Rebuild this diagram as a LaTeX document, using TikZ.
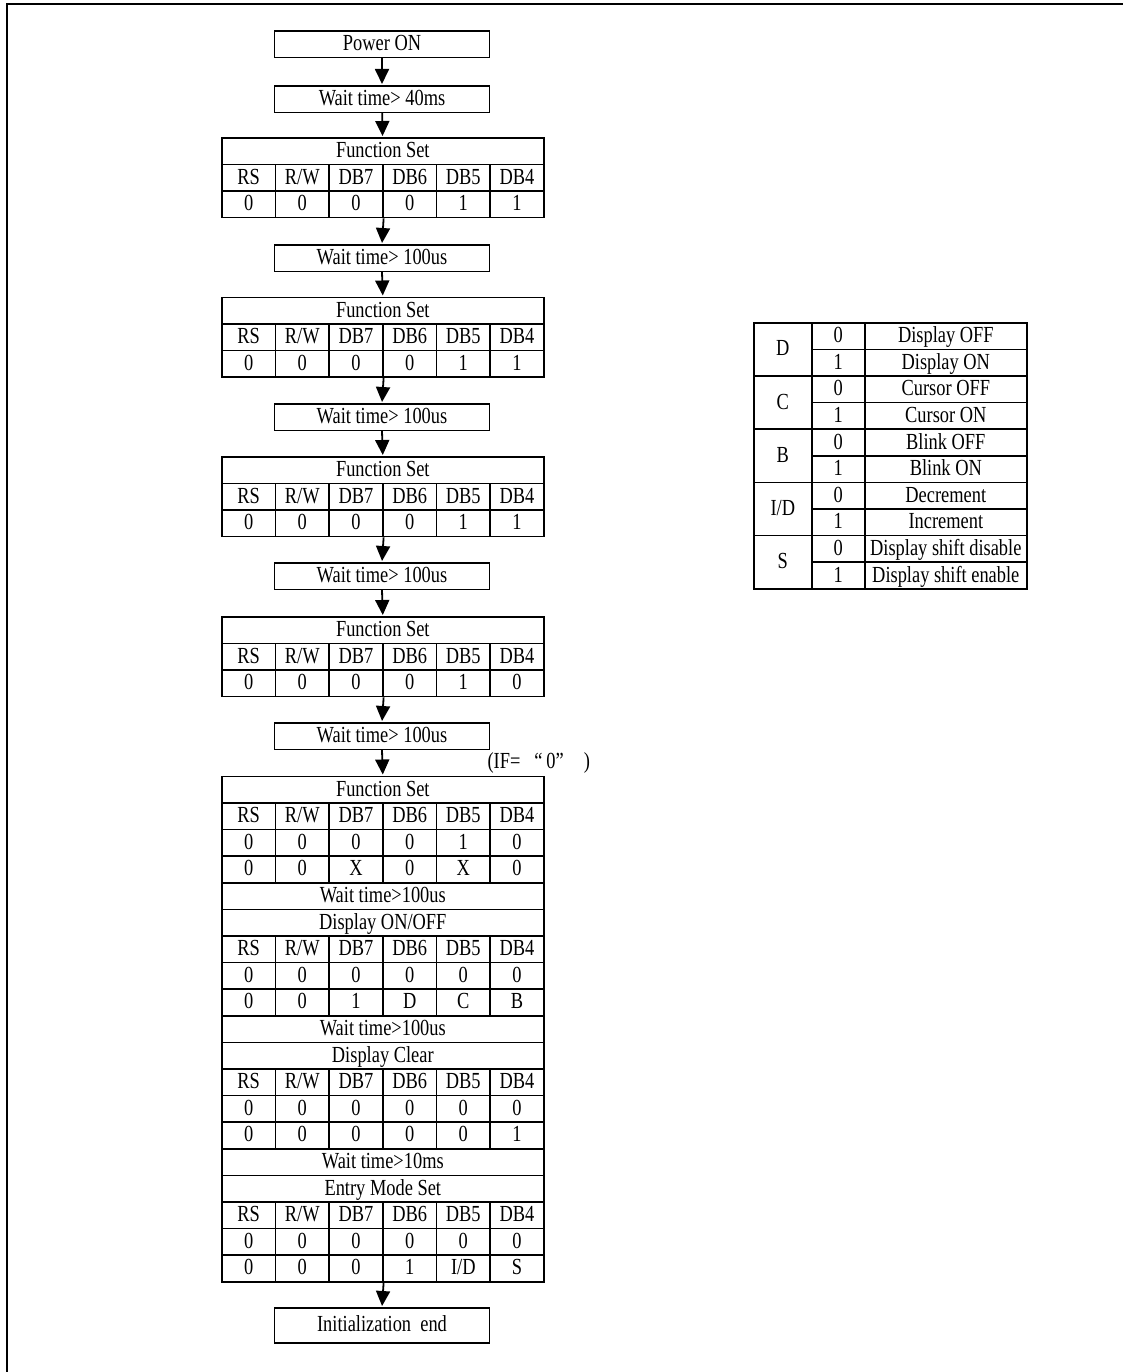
\documentclass[tikz,border=0pt]{standalone}
\usepackage{fontspec}
\setmainfont{Liberation Serif}[FakeStretch=0.8]
\usetikzlibrary{arrows.meta, positioning, calc}

% one row of six bit cells
\newcommand\bitrow[3]{%
  \foreach \v [count=\c] in {#3}
    \node[cell] (#1-\c) at ({221+(\c-1)*53.67},#2) {\v};%
}
% one row spanning the whole table
\newcommand\spanrow[3]{\node[cell, minimum width=322pt] (#1) at (221,#2) {#3};}

\begin{document}
\begin{tikzpicture}[x=1pt, y=-1pt]
  \tikzset{
    cell/.style={
        draw=black, line width=1.6pt, anchor=north west,
        minimum width=53.67pt, minimum height=26.6pt, inner sep=0pt,
        text height=17pt, text depth=4pt,
        font=\fontsize{23}{25}\selectfont
      },
    stepbox/.style={
        cell, anchor=north, minimum width=214.7pt
      },
    flow/.style={
        -{Triangle[length=15pt, width=14pt]},
        line width=1.8pt, shorten >=1pt
      }
  }
  \useasboundingbox (0,0) rectangle (1123,1372);

  % frame
  \draw[line width=2pt] (7,1380) -- (7,4) -- (1130,4);

  \node[stepbox] (pwr) at (382,30) {Power ON};
  \node[stepbox] (w40) at (382,85) {Wait time> 40ms};

  % four Function Set tables with their waits
  \foreach \yt/\lastbit [count=\k] in {137/1, 296.5/1, 456/1, 616/0} {
    \spanrow{fs\k-t}{\yt}{Function Set}
    \bitrow{fs\k-h}{\yt+26.6}{RS,R/W,DB7,DB6,DB5,DB4}
    \bitrow{fs\k-v}{\yt+53.2}{0,0,0,0,1,\lastbit}
  }
  \foreach \yt [count=\k] in {244, 403, 562, 722}
    \node[stepbox] (wait\k) at (382,\yt) {Wait time> 100us};

  \node[anchor=west, font=\fontsize{23}{25}\selectfont] (ifnote) at (484,763)
    {(IF=\hspace{14pt}“\,0”\hspace{20pt})};

  % init sequence table
  \spanrow{big0}{775.5}{Function Set}
  \bitrow{big1}{802.1}{RS,R/W,DB7,DB6,DB5,DB4}
  \bitrow{big2}{828.7}{0,0,0,0,1,0}
  \bitrow{big3}{855.3}{0,0,X,0,X,0}
  \spanrow{big4}{881.9}{Wait time>100us}
  \spanrow{big5}{908.5}{Display ON/OFF}
  \bitrow{big6}{935.1}{RS,R/W,DB7,DB6,DB5,DB4}
  \bitrow{big7}{961.7}{0,0,0,0,0,0}
  \bitrow{big8}{988.3}{0,0,1,D,C,B}
  \spanrow{big9}{1014.9}{Wait time>100us}
  \spanrow{big10}{1041.5}{Display Clear}
  \bitrow{big11}{1068.1}{RS,R/W,DB7,DB6,DB5,DB4}
  \bitrow{big12}{1094.7}{0,0,0,0,0,0}
  \bitrow{big13}{1121.3}{0,0,0,0,0,1}
  \spanrow{big14}{1147.9}{Wait time>10ms}
  \spanrow{big15}{1174.5}{Entry Mode Set}
  \bitrow{big16}{1201.1}{RS,R/W,DB7,DB6,DB5,DB4}
  \bitrow{big17}{1227.7}{0,0,0,0,0,0}
  \bitrow{big18}{1254.3}{0,0,0,1,I/D,S}

  \node[stepbox, minimum height=35pt] (initend) at (382,1307) {Initialization~ end};

  % arrows
  \draw[flow] (pwr) -- (w40);
  \draw[flow] (w40) -- (fs1-t);
  \foreach \k in {1,2,3,4}
    \draw[flow] (fs\k-v-3.south east) -- (wait\k.north);
  \foreach \k [evaluate=\k as \n using int(\k+1)] in {1,2,3}
    \draw[flow] (wait\k.south) -- (fs\n-t.north);
  \draw[flow] (wait4.south) -- (big0.north);
  \draw[flow] (big18-3.south east) -- (initend.north);

  % bit meaning table
  \foreach \bitname/\offtext/\ontext [count=\i] in {D/Display OFF/Display ON,
      C/Cursor OFF/Cursor ON, B/Blink OFF/Blink ON, {I/D}/Decrement/Increment,
      S/Display shift disable/Display shift enable} {
    \node[cell, minimum width=58pt, minimum height=53.2pt] (key\i) at (753,{322+(\i-1)*53.2}) {\bitname};
    \node[cell, minimum width=53pt] (key\i-0) at (811,{322+(\i-1)*53.2}) {0};
    \node[cell, minimum width=53pt] (key\i-1) at (811,{348.6+(\i-1)*53.2}) {1};
    \node[cell, minimum width=162pt] (desc\i-0) at (864,{322+(\i-1)*53.2}) {\offtext};
    \node[cell, minimum width=162pt] (desc\i-1) at (864,{348.6+(\i-1)*53.2}) {\ontext};
  }
\end{tikzpicture}
\end{document}
